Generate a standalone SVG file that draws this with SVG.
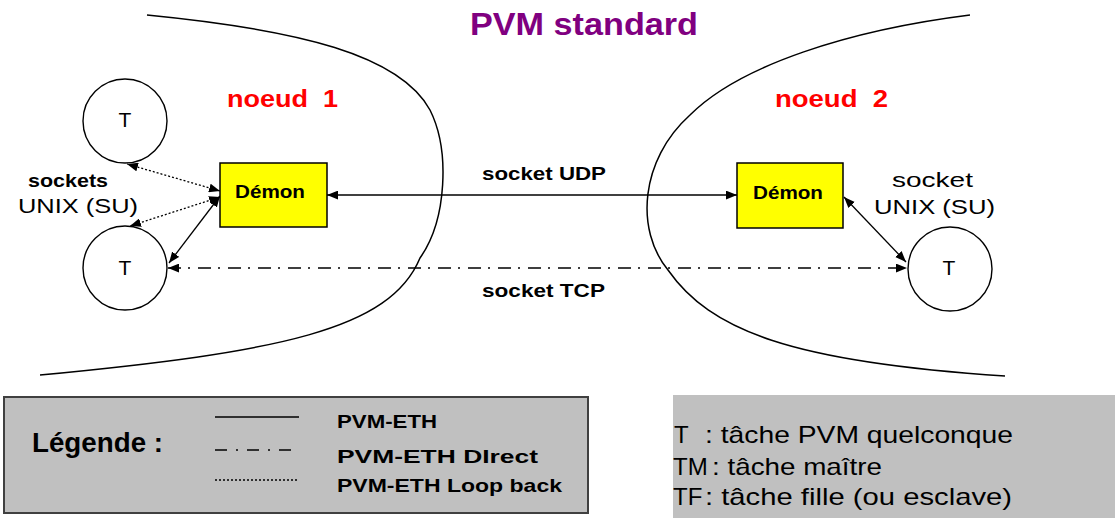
<svg xmlns="http://www.w3.org/2000/svg" width="1115" height="518" viewBox="0 0 1115 518">
<style>
.b{font-family:"Liberation Sans",Arial,sans-serif;font-weight:bold}
.r{font-family:"Liberation Sans",Arial,sans-serif}
.curve{fill:none;stroke:#000;stroke-width:1.5}
.task{fill:#fff;stroke:#000;stroke-width:1.4}
.dem{fill:#ffff00;stroke:#000;stroke-width:1.5}
.c{fill:none;stroke:#000;stroke-width:1.3}
.dd{stroke-dasharray:13 7 2 8}
.dot{stroke-dasharray:2 2}
</style>
<defs>
<marker id="arr" viewBox="0 0 10 8" refX="10" refY="4" markerWidth="11" markerHeight="9" markerUnits="userSpaceOnUse" orient="auto-start-reverse">
<path d="M0,0 L10,4 L0,8 z" fill="#000"/>
</marker>
</defs>
<rect width="1115" height="518" fill="#fff"/>
<g id="node1-boundary">
<path class="curve" d="M147,15 C300,30 400,55 430,110 C450,150 447,220 420,258 C390,330 280,352 40,375"/>
</g>
<g id="node2-boundary">
<path class="curve" d="M970,15 C850,30 740,65 690,115 C640,160 635,230 668,270 C710,330 790,362 1005,376"/>
</g>
<g id="title">
<text class="b" x="470" y="35" font-size="32" fill="#800080" textLength="228" lengthAdjust="spacingAndGlyphs">PVM standard</text>
</g>
<g id="label-noeud1">
<text class="b" x="227" y="107" font-size="24" fill="#ff0000" textLength="111" lengthAdjust="spacingAndGlyphs" xml:space="preserve">noeud  1</text>
</g>
<g id="label-noeud2">
<text class="b" x="775" y="107" font-size="24" fill="#ff0000" textLength="113" lengthAdjust="spacingAndGlyphs" xml:space="preserve">noeud  2</text>
</g>
<g id="connectors">
<line class="c" x1="327" y1="195" x2="737" y2="195" marker-start="url(#arr)" marker-end="url(#arr)"/>
<line class="c dd" x1="168" y1="268" x2="907" y2="268" marker-start="url(#arr)" marker-end="url(#arr)"/>
<line class="c" x1="220" y1="196" x2="169" y2="263" marker-start="url(#arr)" marker-end="url(#arr)"/>
<line class="c dot" x1="220" y1="191" x2="127" y2="164" marker-start="url(#arr)" marker-end="url(#arr)"/>
<line class="c dot" x1="220" y1="197" x2="130" y2="226" marker-start="url(#arr)" marker-end="url(#arr)"/>
<line class="c" x1="844" y1="197" x2="906" y2="262" marker-start="url(#arr)" marker-end="url(#arr)"/>
<text class="b" x="482" y="180" font-size="18" textLength="124" lengthAdjust="spacingAndGlyphs">socket UDP</text>
<text class="b" x="482" y="297" font-size="18" textLength="123" lengthAdjust="spacingAndGlyphs">socket TCP</text>
<text class="b" x="28" y="187" font-size="18" textLength="80" lengthAdjust="spacingAndGlyphs">sockets</text>
<text class="r" x="18" y="213" font-size="21" textLength="120" lengthAdjust="spacingAndGlyphs">UNIX (SU)</text>
<text class="r" x="892" y="187" font-size="21" textLength="81" lengthAdjust="spacingAndGlyphs">socket</text>
<text class="r" x="874" y="214" font-size="21" textLength="121" lengthAdjust="spacingAndGlyphs">UNIX (SU)</text>
</g>
<g id="task-t1">
<circle class="task" cx="125" cy="121" r="42"/>
<text class="r" x="125" y="127" font-size="21" text-anchor="middle">T</text>
</g>
<g id="task-t2">
<circle class="task" cx="125" cy="268" r="42"/>
<text class="r" x="125" y="275" font-size="21" text-anchor="middle">T</text>
</g>
<g id="task-t3">
<circle class="task" cx="950" cy="269" r="42"/>
<text class="r" x="949" y="275" font-size="21" text-anchor="middle">T</text>
</g>
<g id="demon1">
<rect class="dem" x="220" y="163" width="107" height="64"/>
<text class="b" x="235" y="198" font-size="18" textLength="70" lengthAdjust="spacingAndGlyphs">Démon</text>
</g>
<g id="demon2">
<rect class="dem" x="737" y="163" width="106" height="65"/>
<text class="b" x="753" y="199" font-size="18" textLength="70" lengthAdjust="spacingAndGlyphs">Démon</text>
</g>
<g id="legend">
<rect x="4" y="397" width="584" height="116" fill="#c0c0c0" stroke="#404040" stroke-width="2"/>
<text class="b" x="32" y="452" font-size="28" textLength="131" lengthAdjust="spacingAndGlyphs">Légende :</text>
<line x1="215" y1="417" x2="299" y2="417" stroke="#000" stroke-width="1.5"/>
<line x1="215" y1="450" x2="293" y2="450" stroke="#000" stroke-width="1.5" stroke-dasharray="12 9 2 9"/>
<line x1="215" y1="480" x2="299" y2="480" stroke="#000" stroke-width="1.3" stroke-dasharray="2 2"/>
<text class="b" x="337" y="428" font-size="19" textLength="100" lengthAdjust="spacingAndGlyphs">PVM-ETH</text>
<text class="b" x="337" y="463" font-size="19" textLength="201" lengthAdjust="spacingAndGlyphs">PVM-ETH DIrect</text>
<text class="b" x="337" y="492" font-size="19" textLength="225" lengthAdjust="spacingAndGlyphs">PVM-ETH Loop back</text>
</g>
<g id="glossary">
<rect x="673" y="395" width="442" height="123" fill="#c0c0c0"/>
<text class="r" x="674" y="443" font-size="24">T</text>
<text class="r" x="705" y="443" font-size="24" textLength="308" lengthAdjust="spacingAndGlyphs">: tâche PVM quelconque</text>
<text class="r" x="673" y="475" font-size="24">TM</text>
<text class="r" x="712" y="475" font-size="24" textLength="170" lengthAdjust="spacingAndGlyphs">: tâche maître</text>
<text class="r" x="673" y="505" font-size="24">TF</text>
<text class="r" x="705" y="505" font-size="24" textLength="307" lengthAdjust="spacingAndGlyphs">: tâche fille (ou esclave)</text>
</g>
</svg>
